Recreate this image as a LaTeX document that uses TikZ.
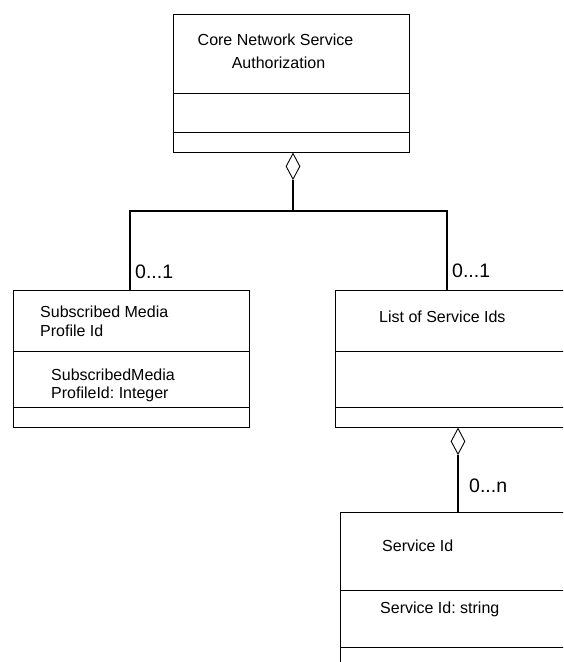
\documentclass[tikz,border=0pt]{standalone}
\usepackage{fontspec}
\setmainfont{Liberation Sans}
\usetikzlibrary{shapes.geometric}
\frenchspacing
\tikzset{
  umlbox/.style={draw=black, line width=0.9pt, rectangle, inner sep=0pt, anchor=north west},
  divider/.style={draw=black, line width=0.9pt},
  conn/.style={draw=black, line width=1.8pt},
  aggdiamond/.style={draw=black, line width=0.9pt, diamond, fill=white, inner sep=0pt, minimum width=14pt, minimum height=26pt},
  boxtext/.style={inner sep=0pt, font=\fontsize{16}{19}\selectfont},
  multlabel/.style={inner sep=0pt, anchor=base west, font=\fontsize{19.5}{23}\selectfont},
}
\begin{document}
\begin{tikzpicture}[x=1pt,y=-1pt]
\useasboundingbox (0,0) rectangle (563,662);
\clip (0,0) rectangle (563,662);
\fill[white] (0,0) rectangle (563,662);

% Boxes
\node[umlbox, minimum width=236, minimum height=138] (core) at (173,14) {};
\node[umlbox, minimum width=236, minimum height=137] (smp) at (13,290) {};
\node[umlbox, minimum width=236, minimum height=137] (list) at (335,290) {};
\node[umlbox, minimum width=236, minimum height=180] (sid) at (340,512) {};

% Dividers
\draw[divider] (core.west |- 0,93) -- (core.east |- 0,93);
\draw[divider] (core.west |- 0,132) -- (core.east |- 0,132);
\draw[divider] (smp.west |- 0,351) -- (smp.east |- 0,351);
\draw[divider] (smp.west |- 0,407) -- (smp.east |- 0,407);
\draw[divider] (list.west |- 0,351) -- (list.east |- 0,351);
\draw[divider] (list.west |- 0,407) -- (list.east |- 0,407);
\draw[divider] (sid.west |- 0,590) -- (sid.east |- 0,590);
\draw[divider] (sid.west |- 0,647) -- (sid.east |- 0,647);

% Texts
\node[boxtext, anchor=base] (coreA) at (275.5,45) {Core Network Service};
\node[boxtext, anchor=base] (coreB) at (278.5,68) {Authorization};
\node[boxtext, anchor=base west] (smpA) at (40,317) {Subscribed Media};
\node[boxtext, anchor=base west] (smpB) at (40,336) {Profile Id};
\node[boxtext, anchor=base west] (smpC) at (51,380) {SubscribedMedia};
\node[boxtext, anchor=base west] (smpD) at (51,398.5) {ProfileId: Integer};
\node[boxtext, anchor=base west] (listA) at (379,322) {List of Service Ids};
\node[boxtext, anchor=base west] (sidA) at (382,551.5) {Service Id};
\node[boxtext, anchor=base west] (sidB) at (380,613) {Service Id: string};

% Aggregation diamonds
\node[aggdiamond, anchor=north] (d1) at (core.south -| 293,0) {};
\node[aggdiamond, anchor=north] (d2) at (list.south -| 458,0) {};

% Connectors
\coordinate (j) at (293,211);
\coordinate (jl) at (130,211);
\coordinate (jr) at (447,211);
\draw[conn] (d1.south) -- (j);
\draw[conn] (jl |- smp.north) -- (jl) -- (jr) -- (jr |- list.north);
\draw[conn] (d2.south) -- (d2.south |- sid.north);

% Multiplicities
\node[multlabel] (m1) at (135,278) {0...1};
\node[multlabel] (m2) at (452,277) {0...1};
\node[multlabel] (m3) at (469,492) {0...n};
\end{tikzpicture}
\end{document}
